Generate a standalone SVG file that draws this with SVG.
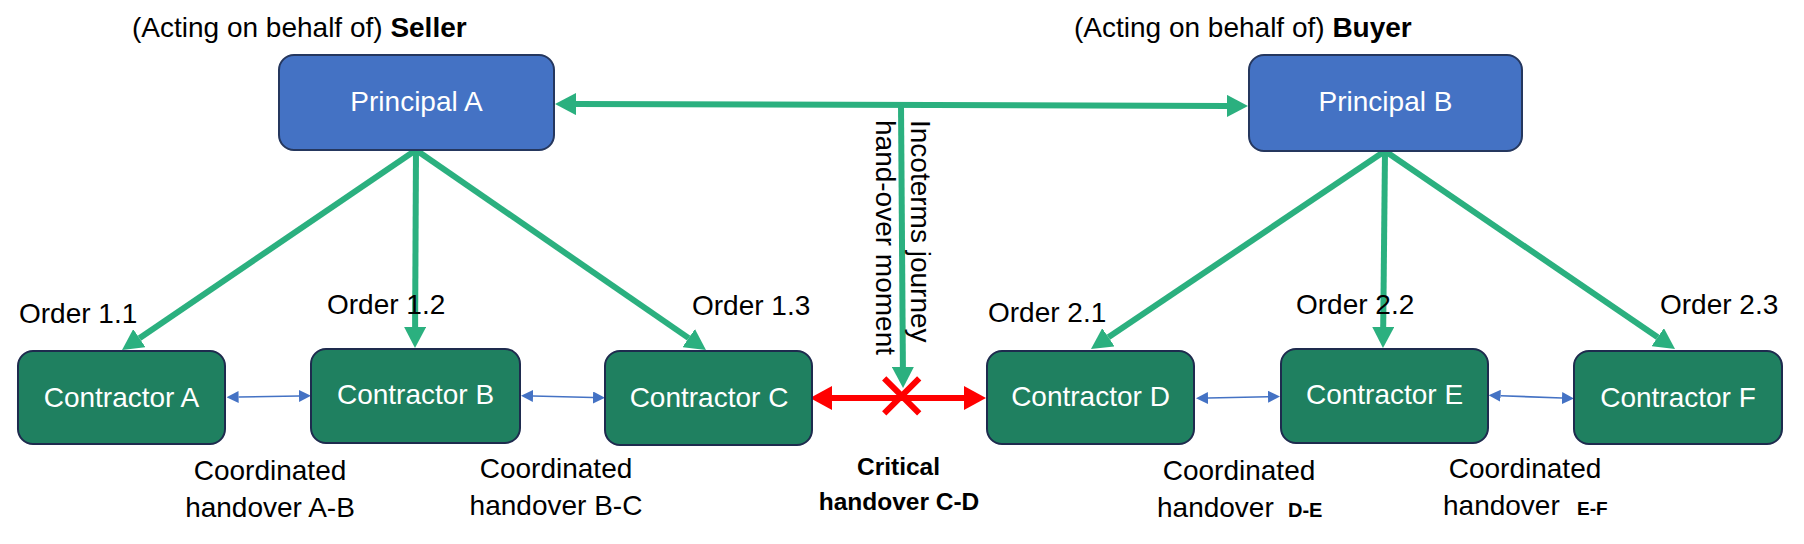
<svg xmlns="http://www.w3.org/2000/svg" width="1804" height="544" viewBox="0 0 1804 544">
<style>
text{font-family:"Liberation Sans",Arial,sans-serif;font-size:28px;fill:#000}
.box text{fill:#fff}
.principal rect{fill:#4472C4;stroke:#25375E;stroke-width:2}
.contractor rect{fill:#1F8060;stroke:#1E2B4E;stroke-width:2}
.g{stroke:#2BB07F;stroke-width:6;fill:none;marker-end:url(#ga)}
.gd{marker-start:url(#ga)}
.b{stroke:#4472C4;stroke-width:1.6;fill:none;marker-start:url(#ba);marker-end:url(#ba)}
.r{stroke:#FF0000;stroke-width:6;fill:none}
.bold{font-weight:bold}
</style>
<defs>
<marker id="ga" markerUnits="userSpaceOnUse" markerWidth="21" markerHeight="22" refX="0" refY="11" orient="auto-start-reverse" viewBox="0 0 21 22"><path d="M0,0 L21,11 L0,22 z" fill="#2BB07F"/></marker>
<marker id="ra" markerUnits="userSpaceOnUse" markerWidth="22" markerHeight="24" refX="0" refY="12" orient="auto-start-reverse" viewBox="0 0 22 24"><path d="M0,0 L22,12 L0,24 z" fill="#FF0000"/></marker>
<marker id="ba" markerUnits="userSpaceOnUse" markerWidth="12" markerHeight="12" refX="0" refY="6" orient="auto-start-reverse" viewBox="0 0 12 12"><path d="M0,0 L12,6 L0,12 z" fill="#4472C4"/></marker>
</defs>

<g id="headers">
<text x="132" y="37">(Acting on behalf of) <tspan class="bold">Seller</tspan></text>
<text x="1074" y="37">(Acting on behalf of) <tspan class="bold">Buyer</tspan></text>
</g>

<g id="connectors">
<path class="g gd" d="M576,104.1 L1227,105.9"/>
<path class="g" d="M416,150 L139.4,338.2"/>
<path class="g" d="M416,150 L415.1,327"/>
<path class="g" d="M416,150 L688.7,338.1"/>
<path class="g" d="M1385,151 L1108.4,337.3"/>
<path class="g" d="M1385,151 L1383.2,327"/>
<path class="g" d="M1385,151 L1657.7,337.2"/>
<path class="g" d="M901,105 L902.9,367"/>
<path class="b" d="M238.6,397 L299,396"/>
<path class="b" d="M533,396 L593,397.5"/>
<path class="b" d="M1208,398 L1268,396.7"/>
<path class="b" d="M1500.6,395.7 L1562,398"/>
<path class="r" d="M832,398 L964,398" marker-start="url(#ra)" marker-end="url(#ra)"/>
<g id="red-x">
<path class="r" d="M884.2,378.3 L919.2,413.3 M919.2,378.3 L884.2,413.3"/>
</g>
</g>

<g id="principal-a" class="box principal"><rect x="279" y="55" width="275" height="95" rx="15"/><text x="416.5" y="111" text-anchor="middle">Principal A</text></g>
<g id="principal-b" class="box principal"><rect x="1249" y="55" width="273" height="96" rx="15"/><text x="1385.5" y="111" text-anchor="middle">Principal B</text></g>

<g id="contractor-a" class="box contractor"><rect x="18" y="351" width="207" height="93" rx="15"/><text x="121.5" y="406.5" text-anchor="middle">Contractor A</text></g>
<g id="contractor-b" class="box contractor"><rect x="311" y="349" width="209" height="94" rx="15"/><text x="415.5" y="404" text-anchor="middle">Contractor B</text></g>
<g id="contractor-c" class="box contractor"><rect x="605" y="351" width="207" height="94" rx="15"/><text x="709" y="406.5" text-anchor="middle">Contractor C</text></g>
<g id="contractor-d" class="box contractor"><rect x="987" y="351" width="207" height="93" rx="15"/><text x="1090.5" y="406" text-anchor="middle">Contractor D</text></g>
<g id="contractor-e" class="box contractor"><rect x="1281" y="349" width="207" height="94" rx="15"/><text x="1384.5" y="404" text-anchor="middle">Contractor E</text></g>
<g id="contractor-f" class="box contractor"><rect x="1574" y="351" width="208" height="93" rx="15"/><text x="1678" y="406.5" text-anchor="middle">Contractor F</text></g>

<g id="labels">
<text x="19" y="323">Order 1.1</text>
<text x="327" y="314">Order 1.2</text>
<text x="692" y="315">Order 1.3</text>
<text x="988" y="321.5">Order 2.1</text>
<text x="1296" y="314">Order 2.2</text>
<text x="1660" y="314">Order 2.3</text>
<text transform="translate(911,120) rotate(90)">Incoterms journey</text>
<text transform="translate(876,120) rotate(90)">hand-over moment</text>
<text x="270" y="480" text-anchor="middle">Coordinated</text>
<text x="270" y="516.5" text-anchor="middle">handover A-B</text>
<text x="556" y="477.5" text-anchor="middle">Coordinated</text>
<text x="556" y="515" text-anchor="middle">handover B-C</text>
<text x="898.5" y="475" text-anchor="middle" class="bold" style="font-size:24.5px">Critical</text>
<text x="899" y="510" text-anchor="middle" class="bold" style="font-size:24.5px">handover C-D</text>
<text x="1239" y="480" text-anchor="middle">Coordinated</text>
<text x="1157" y="516.5">handover</text>
<text x="1288" y="516.5" class="bold" style="font-size:20px">D-E</text>
<text x="1525" y="477.5" text-anchor="middle">Coordinated</text>
<text x="1443" y="515">handover</text>
<text x="1577" y="515" class="bold" style="font-size:19px">E-F</text>
</g>
</svg>
